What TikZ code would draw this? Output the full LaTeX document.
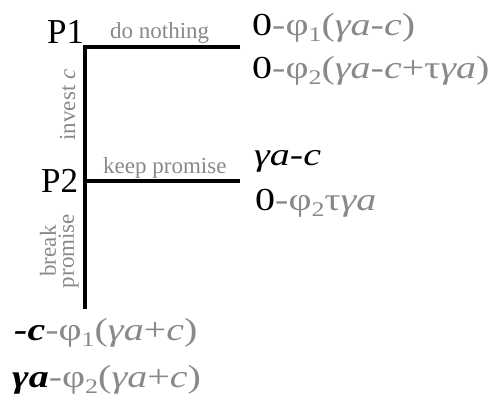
\documentclass[tikz,border=0pt]{standalone}
\usepackage{fontspec}
\usepackage{graphicx}
\setmainfont{Liberation Serif}
\definecolor{tg}{RGB}{137,137,137}
\newcommand\sbs[1]{\raisebox{-0.2em}{\scalebox{0.65}{#1}}}
\newcommand\wide[1]{\scalebox{1.25}[1]{#1}}
\begin{document}
\begin{tikzpicture}[x=1pt,y=-1pt,
  lbl/.style={inner sep=0,anchor=base west,font=\fontsize{23}{23}\selectfont,text=tg},
  vlbl/.style={inner sep=0,anchor=base,rotate=90,font=\fontsize{23}{23}\selectfont,text=tg},
  big/.style={inner sep=0,anchor=base west,font=\fontsize{32}{32}\selectfont},
  player/.style={inner sep=0,anchor=base west,font=\fontsize{35}{35}\selectfont},
  branch/.style={line width=4pt}]
\useasboundingbox (0,0) rectangle (499,397);
\coordinate (p1) at (85,47);
\coordinate (p1e) at (240,47);
\coordinate (p2) at (85,181);
\coordinate (p2e) at (240,181);
\coordinate (bot) at (85,309);
\draw[branch] (p1e) -- (p1) -- (p2) -- (bot);
\draw[branch] (p2) -- (p2e);
\node[player] (P1) at (47,43) {P1};
\node[player] (P2) at (41,192) {P2};
\node[lbl] (dn) at (110,38) {do nothing};
\node[lbl] (kp) at (103,173) {keep promise};
\node[vlbl] (inv) at (75,105) {invest \textit{c}};
\node[vlbl] (br) at (56,251) {break};
\node[vlbl] (pr) at (74,251) {promise};
\node[big] (o1a) at (252,35) {\wide{0\textcolor{tg}{-φ\sbs{1}(\textit{γa}-\textit{c})}}};
\node[big] (o1b) at (252,78) {\wide{0\textcolor{tg}{-φ\sbs{2}(\textit{γa}-\textit{c}+τ\textit{γa})}}};
\node[big] (o2a) at (254,165) {\wide{\textit{γa-c}}};
\node[big] (o2b) at (255,210) {\wide{0\textcolor{tg}{-φ\sbs{2}τ\textit{γa}}}};
\node[big] (o3a) at (14,340) {\wide{\textbf{\textit{-c}}\textcolor{tg}{-φ\sbs{1}(\textit{γa}+\textit{c})}}};
\node[big] (o3b) at (12,387) {\wide{\textbf{\textit{γa}}\textcolor{tg}{-φ\sbs{2}(\textit{γa}+\textit{c})}}};
\end{tikzpicture}
\end{document}
